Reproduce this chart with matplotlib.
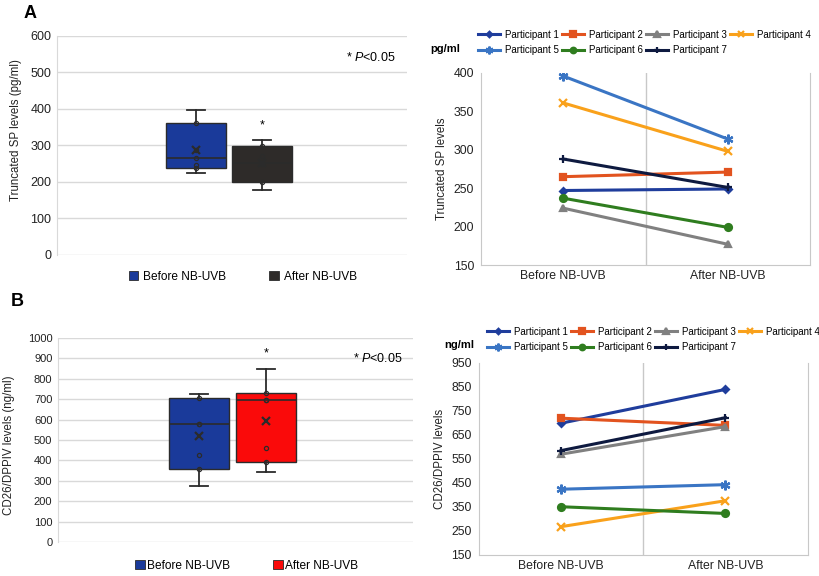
import numpy as np
import matplotlib.pyplot as plt
from matplotlib.patches import Patch

plt.rcParams['font.family'] = ['Liberation Sans', 'DejaVu Sans']
plt.rcParams['mathtext.fontset'] = 'custom'
plt.rcParams['mathtext.rm'] = 'Liberation Sans'
plt.rcParams['mathtext.it'] = 'Liberation Sans:italic'

# ---- data ----
groups = ['Before NB-UVB', 'After NB-UVB']
participants = ['Participant 1', 'Participant 2', 'Participant 3', 'Participant 4',
                'Participant 5', 'Participant 6', 'Participant 7']

# truncated SP (pg/ml), one value per participant
sp_before = [247, 265, 224, 361, 396, 237, 288]
sp_after = [249, 271, 177, 298, 314, 199, 251]

# CD26/DPPIV (ng/ml)
cd_before = [699, 720, 570, 268, 424, 351, 585]
cd_after = [840, 690, 685, 376, 443, 323, 722]

# CD26/DPPIV (ng/ml)
cd_box_before = [275, 356, 426, 577, 578, 704, 724]
cd_box_after = [343, 390, 462, 694, 696, 732, 848]

part_colors = ['#1f3d9c', '#e2531f', '#808080', '#f9a11b', '#3a75c4', '#2f7d1f', '#0e1a40']
part_markers = ['D', 's', '^', 'x', (6, 2, 0), 'o', '+']
marker_sizes = [3.5, 5, 5, 6, 7, 5, 6]

grid_c = '#d9d9d9'
edge_c = '#2b2b2b'


def box_stats(vals):
    v = np.array(vals, dtype=float)
    q1, q3 = np.percentile(v, [25, 75], method='weibull')
    return dict(med=np.median(v), q1=q1, q3=q3, whislo=v.min(), whishi=v.max(),
                mean=v.mean(), fliers=[])


def box_panel(ax, before, after, colors, ymax, ylabel, star_y, tsize, label_xy):
    pos = [0.397, 0.586]
    for p, vals, c in zip(pos, [before, after], colors):
        ax.bxp([box_stats(vals)], positions=[p], widths=0.17, capwidths=0.052,
               patch_artist=True, showmeans=True, showfliers=False,
               boxprops=dict(facecolor=c, edgecolor=edge_c, linewidth=1),
               whiskerprops=dict(color=edge_c, linewidth=1.3),
               capprops=dict(color=edge_c, linewidth=1.3),
               medianprops=dict(color=edge_c, linewidth=1.2),
               meanprops=dict(marker='x', markeredgecolor=edge_c, markersize=6,
                              markeredgewidth=1.6))
        inner = sorted(vals)[1:-1]
        ax.plot([p] * len(inner), inner, 'o', mfc='none', mec=edge_c, ms=3, mew=0.9,
                zorder=5)
    ax.text(pos[1], star_y, '*', ha='center', va='center', fontsize=9, color='black')
    ax.set_xlim(0, 1)
    ax.set_ylim(0, ymax)
    ax.set_xticks([])
    ax.yaxis.grid(True, color=grid_c, linewidth=1)
    ax.set_axisbelow(True)
    for s in ['top', 'right', 'bottom']:
        ax.spines[s].set_visible(False)
    ax.spines['left'].set_color(grid_c)
    ax.tick_params(axis='y', length=0, labelsize=tsize, pad=4, labelcolor='#222222')
    ax.set_ylabel(ylabel, fontsize=8.3, color='#222222')
    ax.yaxis.set_label_coords(*label_xy)
    ax.text(0.97, 0.9, r'* $\mathit{P}$<0.05', transform=ax.transAxes, ha='right',
            va='center', fontsize=9)


def line_panel(ax, before, after, yticks, ylabel):
    for i in range(len(participants)):
        ax.plot([0, 1], [before[i], after[i]], color=part_colors[i], linewidth=2.2,
                marker=part_markers[i], markersize=marker_sizes[i],
                markeredgewidth=1.6, label=participants[i])
    ax.set_xlim(-0.5, 1.5)
    ax.set_ylim(yticks[0], yticks[-1])
    ax.set_yticks(yticks)
    ax.set_xticks([0, 1])
    ax.set_xticklabels(groups)
    ax.axvline(0.5, color='#c8c8c8', linewidth=1, zorder=0)
    ax.spines['top'].set_visible(False)
    for s in ['left', 'right', 'bottom']:
        ax.spines[s].set_color('#c8c8c8')
    ax.tick_params(length=0, labelsize=8.8, labelcolor='#222222')
    ax.tick_params(axis='y', pad=5)
    ax.set_ylabel(ylabel, fontsize=8.3, color='#222222', labelpad=4)


def line_legend(fig, ax, anchor):
    h, l = ax.get_legend_handles_labels()
    order = [0, 4, 1, 5, 2, 6, 3]
    fig.legend([h[i] for i in order], [l[i] for i in order], ncol=4, frameon=False,
               loc='upper left', bbox_to_anchor=anchor, fontsize=7,
               handlelength=2.3, handletextpad=0.45, columnspacing=0.35,
               labelspacing=0.55, borderaxespad=0, markerscale=0.8)


fig = plt.figure(figsize=(8.2, 5.76), dpi=100)

# panel A
axA1 = fig.add_axes([0.0695, 0.5573, 0.4265, 0.3802])
box_panel(axA1, sp_before, sp_after, ['#1a3a9a', '#2e2b29'], 600,
          'Truncated SP levels (pg/ml)', 355, 9, (-0.1, 0.57))
axA1.legend(handles=[Patch(facecolor='#1a3a9a', edgecolor=edge_c, linewidth=0.6),
                     Patch(facecolor='#2e2b29', edgecolor=edge_c, linewidth=0.6)],
            labels=groups, ncol=2, frameon=False, loc='center',
            bbox_to_anchor=(0.296, 0.519), bbox_transform=fig.transFigure,
            fontsize=8.6, handlelength=0.8, handleheight=0.8, handletextpad=0.4,
            columnspacing=3.6)

axA2 = fig.add_axes([0.5866, 0.5399, 0.4012, 0.3334])
line_panel(axA2, sp_before, sp_after, [150, 200, 250, 300, 350, 400],
           'Truncated SP levels')
line_legend(fig, axA2, (0.578, 1 - 26 / 576))
fig.text(0.543, 1 - 49 / 576, 'pg/ml', fontsize=8, fontweight='bold', ha='center',
         va='center')

# panel B
axB1 = fig.add_axes([0.0707, 0.059, 0.433, 0.3542])
box_panel(axB1, cd_box_before, cd_box_after, ['#1a3a9a', '#fa0a0a'], 1000,
          'CD26/DPPIV levels (ng/ml)', 922, 8, (-0.12, 0.475))
axB1.set_yticks(np.arange(0, 1001, 100))
axB1.legend(handles=[Patch(facecolor='#1a3a9a', edgecolor=edge_c, linewidth=0.6),
                     Patch(facecolor='#fa0a0a', edgecolor=edge_c, linewidth=0.6)],
            labels=groups, ncol=2, frameon=False, loc='center',
            bbox_to_anchor=(0.301, 0.0174), bbox_transform=fig.transFigure,
            fontsize=8.6, handlelength=0.8, handleheight=0.8, handletextpad=0.2,
            columnspacing=3.6)

axB2 = fig.add_axes([0.584, 0.0365, 0.401, 0.3333])
line_panel(axB2, cd_before, cd_after, list(range(150, 951, 100)), 'CD26/DPPIV levels')
line_legend(fig, axB2, (0.589, 1 - 323 / 576))
fig.text(0.56, 1 - 345 / 576, 'ng/ml', fontsize=8, fontweight='bold', ha='center',
         va='center')

fig.text(0.037, 1 - 13 / 576, 'A', fontsize=13, fontweight='bold', ha='center',
         va='center')
fig.text(0.021, 1 - 301 / 576, 'B', fontsize=13, fontweight='bold', ha='center',
         va='center')

fig.savefig('out.png', dpi=100)
